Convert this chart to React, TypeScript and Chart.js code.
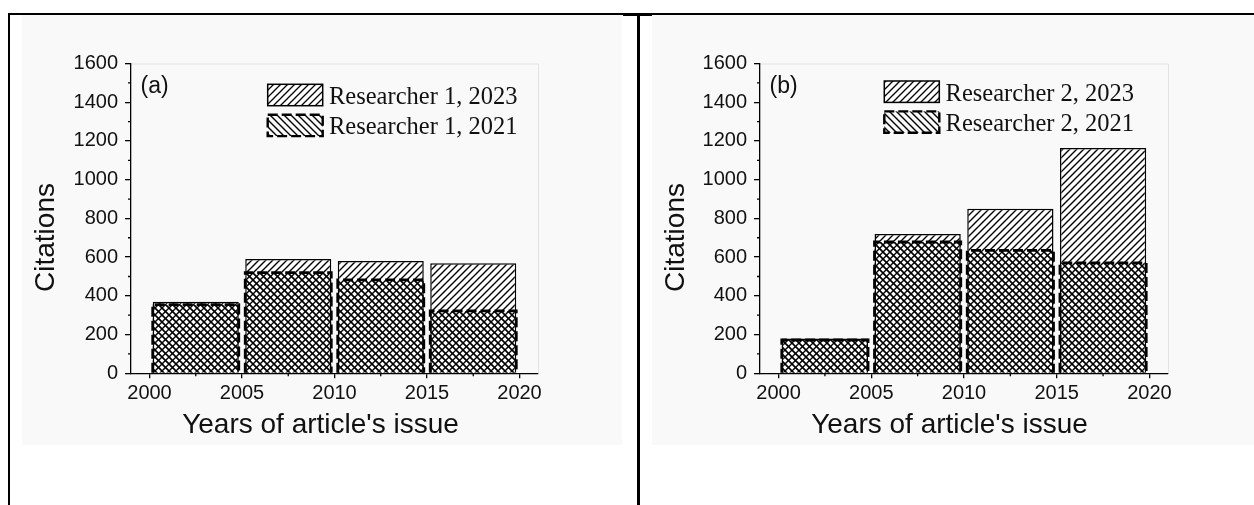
import React, { useEffect, useRef } from 'react';
import { Chart, registerables } from 'chart.js';

Chart.register(...registerables);

// ---------------- data ----------------
const binCenters = [2002.5, 2007.5, 2012.5, 2017.5];
const researcher1Citations2023 = [370, 590, 580, 568];
const researcher1Citations2021 = [355, 520, 482, 322];
const researcher2Citations2023 = [180, 720, 850, 1163];
const researcher2Citations2021 = [172, 678, 635, 570];

const xTickValues = [2000, 2005, 2010, 2015, 2020];
const xTickLabels = ['2000', '2005', '2010', '2015', '2020'];
const xMinorTickValues = [2002.5, 2007.5, 2012.5, 2017.5];
const yTickValues = [0, 200, 400, 600, 800, 1000, 1200, 1400, 1600];
const yTickLabels = ['0', '200', '400', '600', '800', '1000', '1200', '1400', '1600'];
const yMinorTickValues = [100, 300, 500, 700, 900, 1100, 1300, 1500];

const legendLabelsA = ['Researcher 1, 2023', 'Researcher 1, 2021'];
const legendLabelsB = ['Researcher 2, 2023', 'Researcher 2, 2021'];
const panelTags = ['(a)', '(b)'];
const xAxisTitle = "Years of article's issue";
const yAxisTitle = 'Citations';

// ---------------- helpers ----------------
const SANS = '"Liberation Sans", Arial, sans-serif';
const SERIF = '"Liberation Serif", "Times New Roman", serif';

function makeHatch(ctx: CanvasRenderingContext2D, dir: 'fwd' | 'back', bg: string | null, size: number, lw: number) {
  const c = document.createElement('canvas');
  c.width = size;
  c.height = size;
  const g = c.getContext('2d') as CanvasRenderingContext2D;
  if (bg) {
    g.fillStyle = bg;
    g.fillRect(0, 0, size, size);
  }
  g.strokeStyle = '#000';
  g.lineWidth = lw;
  g.beginPath();
  if (dir === 'fwd') {
    g.moveTo(0, size); g.lineTo(size, 0);
    g.moveTo(-1, 1); g.lineTo(1, -1);
    g.moveTo(size - 1, size + 1); g.lineTo(size + 1, size - 1);
  } else {
    g.moveTo(0, 0); g.lineTo(size, size);
    g.moveTo(size - 1, -1); g.lineTo(size + 1, 1);
    g.moveTo(-1, size - 1); g.lineTo(1, size + 1);
  }
  g.stroke();
  return ctx.createPattern(c, 'repeat') as CanvasPattern;
}

type PanelProps = {
  tag: string;
  labels: string[];
  values2023: number[];
  values2021: number[];
  left: number;
  width: number;
  yAxisWidth: number;
  legendDx: number;
  legendDy: number;
};

const PANEL_H = 431;
const PLOT_TOP = 49.5;
const PLOT_BOTTOM = 359.3;
const PLOT_RIGHT = 516;

function Panel(props: PanelProps) {
  const ref = useRef<HTMLCanvasElement | null>(null);

  useEffect(() => {
    const canvas = ref.current;
    if (!canvas) return;
    const ctx0 = canvas.getContext('2d') as CanvasRenderingContext2D;
    const fwd = makeHatch(ctx0, 'fwd', '#ffffff', 7, 1.4);
    const back = makeHatch(ctx0, 'back', null, 7, 1.7);
    const fwdLegend = makeHatch(ctx0, 'fwd', '#ffffff', 7, 1.3);
    const backLegend = makeHatch(ctx0, 'back', null, 7, 1.4);

    const decor = {
      id: 'panelDecor',
      beforeDatasetsDraw(chart: any) {
        const { ctx, chartArea } = chart;
        const { left, right, top, bottom } = chartArea;
        ctx.save();
        ctx.strokeStyle = '#e2e2e2';
        ctx.lineWidth = 1;
        ctx.beginPath();
        ctx.moveTo(left, top + 0.5);
        ctx.lineTo(right + 0.5, top + 0.5);
        ctx.lineTo(right + 0.5, bottom);
        ctx.stroke();
        ctx.restore();
      },
      afterDatasetsDraw(chart: any) {
        const { ctx } = chart;
        const meta = chart.getDatasetMeta(1);
        ctx.save();
        ctx.strokeStyle = '#000';
        ctx.lineWidth = 2.8;
        ctx.setLineDash([10, 4]);
        meta.data.forEach((bar: any) => {
          const p = bar.getProps(['x', 'y', 'base', 'width'], true);
          const l = p.x - p.width / 2;
          const r = p.x + p.width / 2;
          ctx.beginPath();
          ctx.moveTo(l, p.base);
          ctx.lineTo(l, p.y);
          ctx.lineTo(r, p.y);
          ctx.lineTo(r, p.base);
          ctx.stroke();
        });
        ctx.restore();
      },
      afterDraw(chart: any) {
        const { ctx, chartArea, scales } = chart;
        const { left, top, bottom } = chartArea;
        ctx.save();
        // minor ticks
        ctx.strokeStyle = '#000';
        ctx.lineWidth = 1.3;
        ctx.beginPath();
        xMinorTickValues.forEach((v) => {
          const px = scales.x.getPixelForValue(v);
          ctx.moveTo(px, bottom);
          ctx.lineTo(px, bottom + 3);
        });
        yMinorTickValues.forEach((v) => {
          const py = scales.y.getPixelForValue(v);
          ctx.moveTo(left, py);
          ctx.lineTo(left - 3, py);
        });
        ctx.stroke();

        // panel tag
        ctx.fillStyle = '#111';
        ctx.font = `23px ${SANS}`;
        ctx.textAlign = 'left';
        ctx.textBaseline = 'alphabetic';
        ctx.fillText(props.tag, left + 9.5, top + 29.8);

        // legend
        const bx = left + props.legendDx;
        const by = top + props.legendDy;
        const bw = 55;
        const bh = 21.4;
        const gap = 30.4;
        ctx.fillStyle = fwdLegend;
        ctx.fillRect(bx, by, bw, bh);
        ctx.strokeStyle = '#000';
        ctx.lineWidth = 1.5;
        ctx.strokeRect(bx, by, bw, bh);
        ctx.fillStyle = backLegend;
        ctx.fillRect(bx, by + gap, bw, bh);
        ctx.lineWidth = 2.4;
        ctx.setLineDash([10, 4]);
        ctx.strokeRect(bx, by + gap, bw, bh);
        ctx.setLineDash([]);
        ctx.fillStyle = '#111';
        ctx.font = `24.5px ${SERIF}`;
        ctx.fillText(props.labels[0], bx + bw + 6.3, by + 19.5);
        ctx.fillText(props.labels[1], bx + bw + 6.3, by + gap + 19.5);

        // axis titles
        ctx.font = `28px ${SANS}`;
        ctx.textAlign = 'center';
        ctx.fillText(xAxisTitle, left + 189.5, bottom + 59.4);
        ctx.translate(24.5, top + 174);
        ctx.rotate(-Math.PI / 2);
        ctx.textBaseline = 'middle';
        ctx.fillText(yAxisTitle, 0, 0);
        ctx.restore();
      },
    };

    const barCommon = {
      grouped: false,
      barPercentage: 0.93,
      categoryPercentage: 1,
    };

    const chart = new Chart(canvas, {
      type: 'bar',
      data: {
        datasets: [
          {
            label: props.labels[0],
            data: binCenters.map((x, i) => ({ x, y: props.values2023[i] })),
            backgroundColor: fwd,
            borderColor: '#000',
            borderWidth: 1.5,
            borderSkipped: 'bottom',
            order: 2,
            ...barCommon,
          } as any,
          {
            label: props.labels[1],
            data: binCenters.map((x, i) => ({ x, y: props.values2021[i] })),
            backgroundColor: back,
            borderWidth: 0,
            order: 1,
            ...barCommon,
          } as any,
        ],
      },
      options: {
        animation: false,
        responsive: false,
        events: [],
        layout: { padding: { left: 0, right: props.width - PLOT_RIGHT, top: PLOT_TOP, bottom: 0 } },
        plugins: {
          legend: { display: false },
          tooltip: { enabled: false },
          title: { display: false },
        },
        scales: {
          x: {
            type: 'linear',
            min: 1999,
            max: 2021,
            offset: false,
            afterBuildTicks: (s: any) => {
              s.ticks = xTickValues.map((v) => ({ value: v }));
            },
            afterFit: (s: any) => {
              s.height = PANEL_H - PLOT_BOTTOM;
            },
            ticks: {
              callback: (v: any) => {
                const i = xTickValues.indexOf(Number(v));
                return i >= 0 ? xTickLabels[i] : '';
              },
              font: { family: SANS, size: 20 },
              color: '#111',
              padding: 3,
              maxRotation: 0,
              autoSkip: false,
            },
            grid: { offset: false, drawOnChartArea: false, drawTicks: true, tickLength: 5, color: '#000', lineWidth: 1.3 },
            border: { display: true, color: '#000', width: 1.3, z: 1 },
          },
          y: {
            type: 'linear',
            min: 0,
            max: 1600,
            afterBuildTicks: (s: any) => {
              s.ticks = yTickValues.map((v) => ({ value: v }));
            },
            afterFit: (s: any) => {
              s.width = props.yAxisWidth;
            },
            ticks: {
              callback: (v: any) => {
                const i = yTickValues.indexOf(Number(v));
                return i >= 0 ? yTickLabels[i] : '';
              },
              font: { family: SANS, size: 20 },
              color: '#111',
              padding: 7,
              autoSkip: false,
            },
            grid: { drawOnChartArea: false, drawTicks: true, tickLength: 6, color: '#000', lineWidth: 1.3 },
            border: { display: true, color: '#000', width: 1.3, z: 1 },
          },
        },
      } as any,
      plugins: [decor],
    });

    return () => chart.destroy();
  }, []);

  return (
    <div
      style={{
        position: 'absolute',
        left: props.left,
        top: 14,
        width: props.width,
        height: PANEL_H,
        background: '#f9f9f9',
      }}
    >
      <canvas ref={ref} width={props.width} height={PANEL_H} style={{ display: 'block' }} />
    </div>
  );
}

export default function App() {
  return (
    <div
      style={{
        position: 'fixed',
        left: 0,
        top: 0,
        width: 1254,
        height: 505,
        background: '#ffffff',
        overflow: 'hidden',
      }}
    >
      <Panel
        tag={panelTags[0]}
        labels={legendLabelsA}
        values2023={researcher1Citations2023}
        values2021={researcher1Citations2021}
        left={22}
        width={600}
        yAxisWidth={109}
        legendDx={136.7}
        legendDy={20.8}
      />
      <Panel
        tag={panelTags[1]}
        labels={legendLabelsB}
        values2023={researcher2Citations2023}
        values2021={researcher2Citations2021}
        left={652}
        width={602}
        yAxisWidth={108}
        legendDx={124.3}
        legendDy={17.5}
      />
      <div style={{ position: 'absolute', left: 8, top: 13, width: 1246, height: 2, background: '#000' }} />
      <div style={{ position: 'absolute', left: 623, top: 14, width: 29, height: 2, background: '#000' }} />
      <div style={{ position: 'absolute', left: 8, top: 13, width: 2, height: 492, background: '#000' }} />
      <div style={{ position: 'absolute', left: 637, top: 13, width: 3, height: 492, background: '#000' }} />
    </div>
  );
}
